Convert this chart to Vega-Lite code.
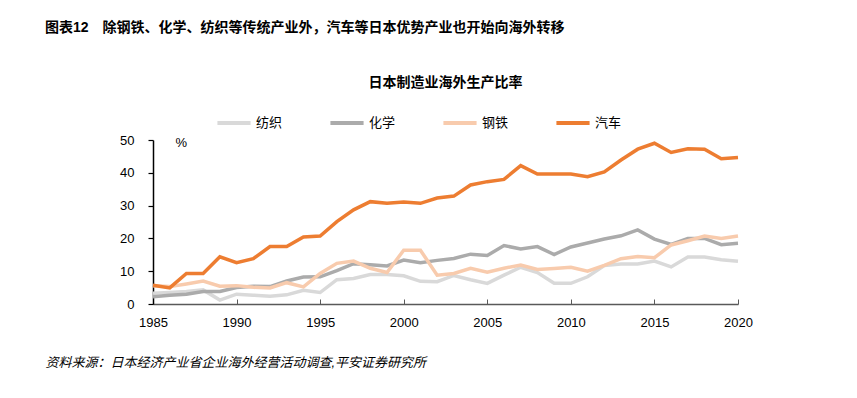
{
  "$schema": "https://vega.github.io/schema/vega-lite/v6.json",
  "width": 585,
  "height": 164,
  "autosize": {"type": "none"},
  "padding": {"left": 153, "top": 140, "right": 119, "bottom": 94},
  "background": "white",
  "config": {
    "view": {"stroke": null},
    "font": "Liberation Sans, Noto Sans CJK SC",
    "axis": {"labelFont": "Liberation Sans, Noto Sans CJK SC", "titleFont": "Liberation Sans, Noto Sans CJK SC", "labelColor": "#000", "titleColor": "#000"},
    "legend": {"labelFont": "Liberation Sans, Noto Sans CJK SC", "labelColor": "#000"}
  },
  "title": {
    "text": "图表12　除钢铁、化学、纺织等传统产业外，汽车等日本优势产业也开始向海外转移",
    "anchor": "start",
    "frame": "group",
    "dx": -108,
    "offset": 40,
    "fontSize": 14,
    "fontWeight": "bold",
    "color": "#000",
    "font": "Liberation Sans, Noto Sans CJK SC"
  },
  "data": {
    "values": [
      {"year": 1985, "纺织": 3.3, "化学": 2.2, "钢铁": 5.6, "汽车": 5.7},
      {"year": 1986, "纺织": 3.5, "化学": 2.7, "钢铁": 5.3, "汽车": 4.9},
      {"year": 1987, "纺织": 3.8, "化学": 3.0, "钢铁": 6.1, "汽车": 9.3},
      {"year": 1988, "纺织": 4.3, "化学": 3.8, "钢铁": 7.0, "汽车": 9.3},
      {"year": 1989, "纺织": 1.2, "化学": 3.8, "钢铁": 5.4, "汽车": 14.4},
      {"year": 1990, "纺织": 3.0, "化学": 5.0, "钢铁": 5.6, "汽车": 12.6},
      {"year": 1991, "纺织": 2.7, "化学": 5.4, "钢铁": 5.1, "汽车": 13.8},
      {"year": 1992, "纺织": 2.4, "化学": 5.3, "钢铁": 4.9, "汽车": 17.5},
      {"year": 1993, "纺织": 2.8, "化学": 7.0, "钢铁": 6.5, "汽车": 17.5},
      {"year": 1994, "纺织": 4.2, "化学": 8.2, "钢铁": 5.2, "汽车": 20.4},
      {"year": 1995, "纺织": 3.5, "化学": 8.3, "钢铁": 9.3, "汽车": 20.7},
      {"year": 1996, "纺织": 7.4, "化学": 10.2, "钢铁": 12.4, "汽车": 25.1},
      {"year": 1997, "纺织": 7.8, "化学": 12.3, "钢铁": 13.1, "汽车": 28.7},
      {"year": 1998, "纺织": 9.0, "化学": 12.0, "钢铁": 10.9, "汽车": 31.2},
      {"year": 1999, "纺织": 9.0, "化学": 11.6, "钢铁": 9.6, "汽车": 30.7},
      {"year": 2000, "纺织": 8.6, "化学": 13.4, "钢铁": 16.4, "汽车": 31.1},
      {"year": 2001, "纺织": 6.9, "化学": 12.6, "钢铁": 16.4, "汽车": 30.7},
      {"year": 2002, "纺织": 6.8, "化学": 13.3, "钢铁": 8.8, "汽车": 32.3},
      {"year": 2003, "纺织": 8.7, "化学": 13.9, "钢铁": 9.3, "汽车": 32.9},
      {"year": 2004, "纺织": 7.4, "化学": 15.2, "钢铁": 10.9, "汽车": 36.3},
      {"year": 2005, "纺织": 6.3, "化学": 14.8, "钢铁": 9.7, "汽车": 37.3},
      {"year": 2006, "纺织": 8.8, "化学": 17.8, "钢铁": 10.9, "汽车": 38.0},
      {"year": 2007, "纺织": 11.2, "化学": 16.8, "钢铁": 11.9, "汽车": 42.2},
      {"year": 2008, "纺织": 9.6, "化学": 17.5, "钢铁": 10.5, "汽车": 39.6},
      {"year": 2009, "纺织": 6.3, "化学": 15.1, "钢铁": 10.8, "汽车": 39.6},
      {"year": 2010, "纺织": 6.3, "化学": 17.4, "钢铁": 11.2, "汽车": 39.6},
      {"year": 2011, "纺织": 8.3, "化学": 18.6, "钢铁": 10.0, "汽车": 38.8},
      {"year": 2012, "纺织": 11.7, "化学": 19.8, "钢铁": 11.8, "汽车": 40.3},
      {"year": 2013, "纺织": 12.2, "化学": 20.8, "钢铁": 13.8, "汽车": 43.9},
      {"year": 2014, "纺织": 12.2, "化学": 22.6, "钢铁": 14.5, "汽车": 47.2},
      {"year": 2015, "纺织": 13.1, "化学": 19.8, "钢铁": 14.1, "汽车": 49.0},
      {"year": 2016, "纺织": 11.3, "化学": 18.2, "钢铁": 18.0, "汽车": 46.2},
      {"year": 2017, "纺织": 14.3, "化学": 20.0, "钢铁": 19.3, "汽车": 47.3},
      {"year": 2018, "纺织": 14.3, "化学": 20.0, "钢铁": 20.7, "汽车": 47.2},
      {"year": 2019, "纺织": 13.5, "化学": 18.1, "钢铁": 20.0, "汽车": 44.3},
      {"year": 2020, "纺织": 13.0, "化学": 18.5, "钢铁": 20.7, "汽车": 44.7}
    ]
  },
  "transform": [{"fold": ["纺织", "化学", "钢铁", "汽车"], "as": ["类别", "比率"]}],
  "layer": [
    {
      "mark": {"type": "line", "strokeWidth": 3.5},
      "encoding": {
        "x": {
          "field": "year",
          "type": "quantitative",
          "scale": {"domain": [1985, 2020], "nice": false, "zero": false},
          "axis": {
            "orient": "bottom",
            "values": [1985, 1990, 1995, 2000, 2005, 2010, 2015, 2020],
            "format": "d",
            "labelFontSize": 13,
            "labelFlush": false,
            "labelOverlap": false,
            "tickSize": -5,
            "labelPadding": 17,
            "domainColor": "#595959",
            "tickColor": "#595959",
            "domainWidth": 1.5,
            "grid": false,
            "title": "资料来源：日本经济产业省企业海外经营活动调查,平安证券研究所",
            "titleX": -108,
            "titleY": 58,
            "titleAlign": "left",
            "titleAnchor": "start",
            "titleBaseline": "middle",
            "titleFontStyle": "italic",
            "titleFontWeight": "normal",
            "titleFontSize": 13
          }
        },
        "y": {
          "field": "比率",
          "type": "quantitative",
          "scale": {"domain": [0, 50], "nice": false},
          "axis": {
            "orient": "left",
            "values": [0, 10, 20, 30, 40, 50],
            "domain": true,
            "ticks": true,
            "tickSize": 5,
            "tickWidth": 1.2,
            "labelPadding": 14,
            "labelOverlap": false,
            "labelFlush": false,
            "domainColor": "#000",
            "tickColor": "#000",
            "domainWidth": 1.5,
            "grid": false,
            "labelFontSize": 13,
            "title": "%",
            "titleAngle": 0,
            "titleX": 22,
            "titleY": 2,
            "titleAlign": "left",
            "titleBaseline": "middle",
            "titleFontWeight": "normal",
            "titleFontSize": 13
          }
        },
        "color": {
          "field": "类别",
          "type": "nominal",
          "scale": {"domain": ["纺织", "化学", "钢铁", "汽车"], "range": ["#D9D9D9", "#ABABAB", "#F8CBAD", "#ED7D31"]},
          "sort": ["纺织", "化学", "钢铁", "汽车"],
          "legend": {
            "orient": "none",
            "legendX": 62,
            "legendY": -36,
            "direction": "horizontal",
            "title": null,
            "symbolType": "stroke",
            "symbolStrokeWidth": 4,
            "symbolSize": 1100,
            "labelFontSize": 13,
            "labelOffset": 3,
            "columnPadding": 39
          }
        }
      }
    },
    {
      "mark": {"type": "point", "opacity": 0, "size": 0},
      "encoding": {
        "x": {
          "field": "year",
          "type": "quantitative",
          "axis": {
            "orient": "top",
            "domain": false,
            "ticks": false,
            "labels": false,
            "grid": false,
            "title": "日本制造业海外生产比率",
            "titleX": 292,
            "titleY": -58,
            "titleAlign": "center",
            "titleBaseline": "middle",
            "titleFontSize": 14,
            "titleFontWeight": "bold"
          }
        }
      }
    }
  ],
  "resolve": {"axis": {"x": "independent"}}
}
